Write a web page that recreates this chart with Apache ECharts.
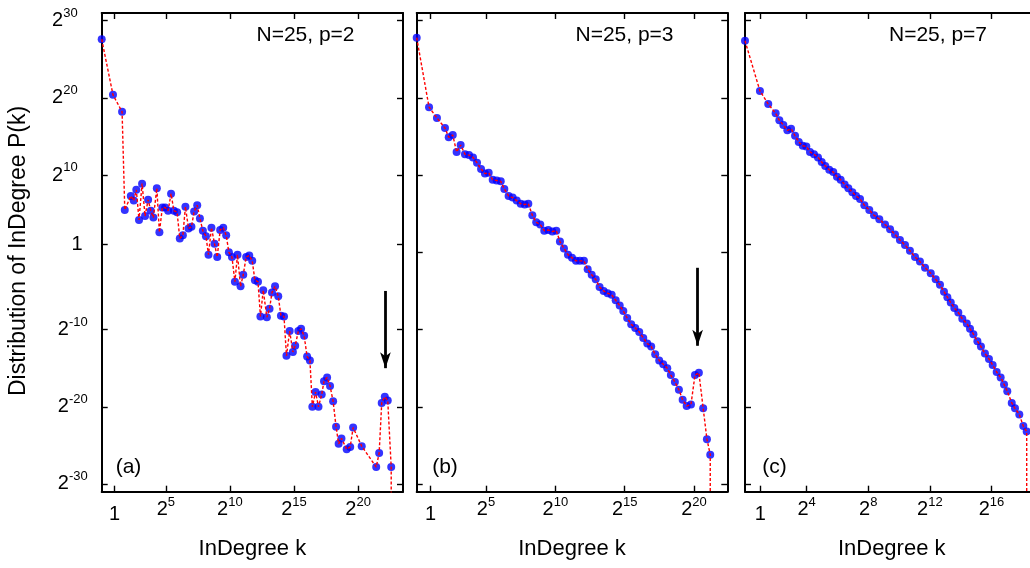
<!DOCTYPE html>
<html>
<head>
<meta charset="utf-8">
<script src="https://cdn.jsdelivr.net/npm/echarts@6/dist/echarts.min.js"></script>
<style>
html,body{margin:0;padding:0;background:#ffffff;}
#chart{width:1030px;height:568px;}
</style>
</head>
<body>
<div id="chart"></div>
<script>
// ---------------- DATA (log2 k , log2 P(k)) ----------------
const P_ZERO = -60; // P(k)=0 at the last k: the curve drops off the bottom of the axis

const panelA = [
  [0.00,27.6],[0.88,20.4],[1.59,18.2],[1.80,5.5],[2.27,7.3],[2.50,6.7],[2.70,8.1],[2.91,4.2],
  [3.15,8.9],[3.38,4.7],[3.62,6.8],[3.83,5.4],[4.03,4.5],[4.30,8.3],[4.50,2.6],[4.73,5.8],
  [4.95,5.8],[5.18,5.4],[5.41,7.6],[5.63,5.4],[5.88,5.2],[6.09,1.8],[6.33,2.2],[6.53,5.9],
  [6.77,3.1],[7.00,3.3],[7.21,5.3],[7.45,6.1],[7.66,4.4],[7.89,2.8],[8.13,2.1],[8.33,-0.3],
  [8.56,3.2],[8.80,1.1],[9.01,-0.6],[9.24,2.9],[9.48,3.2],[9.71,2.2],[9.92,0.0],[10.16,-0.6],
  [10.39,-3.8],[10.59,-0.3],[10.83,-4.4],[11.04,-2.9],[11.27,-0.6],[11.51,-0.4],[11.74,-1.1],
  [11.95,-3.6],[12.19,-3.8],[12.38,-8.3],[12.60,-4.9],[12.88,-8.4],[13.09,-7.3],[13.28,-5.2],
  [13.52,-4.4],[13.77,-5.7],[13.98,-8.2],[14.22,-8.3],[14.41,-13.4],[14.66,-10.2],[14.91,-12.9],
  [15.09,-12.1],[15.34,-10.2],[15.55,-9.9],[15.79,-10.8],[16.02,-13.5],[16.24,-14.0],
  [16.43,-20.0],[16.68,-18.1],[16.91,-20.0],[17.16,-18.4],[17.34,-16.7],[17.58,-16.2],
  [17.81,-17.3],[18.05,-19.3],[18.28,-22.6],[18.48,-24.8],[18.70,-24.1],[19.11,-25.5],
  [19.38,-25.2],[19.61,-22.7],[20.28,-25.1],[21.41,-27.8],[21.64,-26.0],[21.84,-19.5],
  [22.08,-18.7],[22.31,-19.2],[22.58,-27.8],[22.58,P_ZERO]
];

const panelB = [
  [0.00,27.8],[0.89,18.8],[1.46,17.4],[2.04,16.1],[2.31,14.9],[2.60,15.2],[2.88,13.0],[3.17,13.9],
  [3.48,12.7],[3.77,12.6],[4.06,12.3],[4.35,11.6],[4.64,10.8],[4.92,10.2],[5.19,10.3],[5.48,9.4],
  [5.77,9.3],[6.06,9.2],[6.32,8.2],[6.63,7.3],[6.92,7.1],[7.21,6.7],[7.50,6.3],[7.79,6.2],
  [8.05,6.3],[8.34,4.8],[8.62,3.9],[8.91,3.6],[9.20,2.8],[9.49,2.9],[9.78,2.7],[10.07,2.8],
  [10.33,1.4],[10.62,0.5],[10.91,-0.3],[11.20,-0.7],[11.49,-1.1],[11.77,-1.1],[12.06,-1.1],
  [12.33,-2.2],[12.62,-2.9],[12.91,-3.5],[13.19,-4.5],[13.48,-5.0],[13.77,-5.3],[14.06,-5.5],
  [14.35,-6.2],[14.64,-6.9],[14.90,-7.6],[15.18,-8.5],[15.47,-9.3],[15.76,-9.8],[16.05,-10.3],
  [16.34,-11.1],[16.63,-11.8],[16.91,-12.2],[17.20,-13.2],[17.49,-14.0],[17.78,-14.5],
  [18.07,-15.0],[18.33,-15.9],[18.62,-16.8],[18.91,-17.8],[19.18,-19.1],[19.47,-19.9],
  [19.78,-19.7],[20.07,-15.9],[20.35,-15.6],[20.66,-20.2],[20.93,-24.2],[21.17,-26.2],
  [21.17,P_ZERO]
];

const panelC = [
  [0.00,27.4],[0.97,20.9],[1.51,19.2],[1.99,18.0],[2.23,17.1],[2.49,16.5],[2.75,15.8],[2.99,16.0],
  [3.25,15.1],[3.49,14.3],[3.75,13.8],[3.98,13.7],[4.22,13.0],[4.48,12.7],[4.74,12.3],[4.98,11.7],
  [5.21,11.2],[5.47,10.7],[5.73,10.4],[5.97,9.8],[6.21,9.4],[6.47,8.8],[6.71,8.3],[6.97,7.8],
  [7.21,7.3],[7.47,6.9],[7.75,6.1],[8.07,5.5],[8.38,4.8],[8.72,4.3],[9.09,3.6],[9.42,3.0],
  [9.74,2.3],[10.06,1.6],[10.39,0.95],[10.71,0.2],[11.04,-0.6],[11.36,-1.2],[11.69,-2.0],
  [12.06,-2.7],[12.38,-3.5],[12.66,-4.2],[12.92,-5.1],[13.14,-5.8],[13.36,-6.5],[13.59,-7.2],
  [13.85,-7.8],[14.11,-8.6],[14.40,-9.2],[14.61,-9.9],[14.83,-10.6],[15.09,-11.5],[15.32,-12.2],
  [15.58,-13.1],[15.84,-13.8],[16.08,-14.6],[16.34,-15.5],[16.60,-16.2],[16.82,-17.1],
  [17.03,-18.0],[17.32,-19.5],[17.53,-20.2],[17.81,-21.0],[18.07,-22.5],[18.29,-23.2],
  [18.29,P_ZERO]
];

// tick values (log2) and labels
const xTicksAB = [1, 5, 10, 15, 20];
const xTicksC  = [1, 4, 8, 12, 16];
const yTicksAC = [-30, -20, -10, 1, 10, 20, 30];
const yTicksB  = [-30, -20, -10, 0, 10, 20, 30];
const xOneTick = 1;             // tick labelled "1" on x
const yOneTicks = [1, 0, 1];    // tick labelled "1" on y, per panel

const panelTitles = ['N=25, p=2', 'N=25, p=3', 'N=25, p=7'];
const panelTags = ['(a)', '(b)', '(c)'];
const xTitle = 'InDegree k';
const yTitle = 'Distribution of InDegree P(k)';

// arrows: [log2 k, log2 P at tail, log2 P at arrow tip]
const arrowA = [22.13, -5.0, -15.0];
const arrowB = [20.26, -2.0, -12.1];

// ---------------- LAYOUT / STYLE ----------------
const FONT = "'Liberation Sans', Arial, Helvetica, sans-serif";
const TOP = 13, HEIGHT = 478.7, YMIN = -31, YMAX = 31;
const layout = [
  { left: 101.7, width: 301.3, xmax: 23.5 },
  { left: 416.7, width: 310.6, xmax: 22.4 },
  { left: 745.0, width: 293.4, xmax: 19.05 }
];
const panels = [
  { data: panelA, xTicks: xTicksAB, yTicks: yTicksAC, showY: true,  arrow: arrowA },
  { data: panelB, xTicks: xTicksAB, yTicks: yTicksB,  showY: false, arrow: arrowB },
  { data: panelC, xTicks: xTicksC,  yTicks: yTicksAC, showY: false, arrow: null }
];

const txt = { fontFamily: FONT, color: '#000' };
const richX = {
  b:    Object.assign({ fontSize: 20, lineHeight: 28 }, txt),
  s:    Object.assign({ fontSize: 13, lineHeight: 13, verticalAlign: 'top' }, txt),
  onex: Object.assign({ fontSize: 20, lineHeight: 38 }, txt)
};
const richY = {
  b:    Object.assign({ fontSize: 20, lineHeight: 28 }, txt),
  s:    Object.assign({ fontSize: 13, lineHeight: 13, verticalAlign: 'top' }, txt),
  sp:   Object.assign({ fontSize: 13, lineHeight: 13, verticalAlign: 'top', padding: [0, 10, 0, 0] }, txt),
  oney: Object.assign({ fontSize: 20, lineHeight: 28, padding: [0, 5, 0, 0] }, txt)
};
const axisLine = { show: true, onZero: false, lineStyle: { color: '#000', width: 2 } };
const tickStyle = { color: '#000', width: 1.4 };

const grids = [], xAxes = [], yAxes = [], series = [], graphics = [];

panels.forEach(function (p, i) {
  const L = layout[i];
  grids.push({ left: L.left, top: TOP, width: L.width, height: HEIGHT, show: false,
               containLabel: false, outerBoundsMode: 'none' });
  // bottom x axis
  xAxes.push({
    gridIndex: i, type: 'value', min: 0, max: L.xmax, position: 'bottom',
    axisLine: axisLine,
    axisTick: { show: true, inside: true, length: 6, customValues: p.xTicks, lineStyle: tickStyle },
    axisLabel: { show: true, customValues: p.xTicks, margin: 4, rich: richX,
      formatter: function (v) { return v === xOneTick ? '{onex|1}' : '{b|2}{s|' + v + '}'; } },
    splitLine: { show: false },
    name: xTitle, nameLocation: 'middle', nameGap: 46, nameMoveOverlap: false,
    nameTextStyle: { fontSize: 22, fontFamily: FONT, color: '#000' }
  });
  // left y axis
  const one = yOneTicks[i];
  yAxes.push({
    gridIndex: i, type: 'value', min: YMIN, max: YMAX, position: 'left',
    axisLine: axisLine,
    axisTick: { show: true, inside: true, length: 6, customValues: p.yTicks, lineStyle: tickStyle },
    axisLabel: { show: p.showY, customValues: p.yTicks, margin: 14, rich: richY, align: 'right',
      formatter: function (v) {
        if (v === one) return '{oney|1}';
        return '{b|2}{' + (v > 0 ? 'sp' : 's') + '|' + v + '}';
      } },
    splitLine: { show: false }
  });
  // series: blue points underneath, red dashed line on top
  series.push({
    type: 'scatter', xAxisIndex: i, yAxisIndex: i, data: p.data,
    symbol: 'circle', symbolSize: 8, itemStyle: { color: '#0000ff' },
    z: 2, clip: true, silent: true, animation: false
  });
  const line = {
    type: 'line', xAxisIndex: i, yAxisIndex: i, data: p.data,
    symbol: 'none', showSymbol: false,
    lineStyle: { color: '#ff0000', width: 1.4, type: [3, 2] },
    z: 3, clip: true, silent: true, animation: false
  };
  if (p.arrow) {
    line.markLine = {
      silent: true, animation: false, symbol: ['none', 'arrow'],
      label: { show: false }, emphasis: { disabled: true },
      lineStyle: { color: '#000', width: 2.8, type: 'solid' },
      data: [[
        { coord: [p.arrow[0], p.arrow[1]], symbol: 'none' },
        { coord: [p.arrow[0], p.arrow[2]], symbol: 'arrow', symbolSize: [8, 16] }
      ]]
    };
  }
  series.push(line);
  // panel annotations
  graphics.push({
    type: 'text', x: [305.5, 624.5, 938][i], y: 35,
    style: { text: panelTitles[i], font: '21px ' + FONT, fill: '#000',
             align: 'center', verticalAlign: 'middle', textAlign: 'center', textVerticalAlign: 'middle' }
  });
  graphics.push({
    type: 'text', x: [128.5, 445, 774.5][i], y: 467,
    style: { text: panelTags[i], font: '21px ' + FONT, fill: '#000',
             align: 'center', verticalAlign: 'middle', textAlign: 'center', textVerticalAlign: 'middle' }
  });
});

// mirrored (top / right) axes: ticks only
panels.forEach(function (p, i) {
  const L = layout[i];
  xAxes.push({
    gridIndex: i, type: 'value', min: 0, max: L.xmax, position: 'top',
    axisLine: axisLine,
    axisTick: { show: true, inside: true, length: 6, customValues: p.xTicks, lineStyle: tickStyle },
    axisLabel: { show: false }, splitLine: { show: false }
  });
  yAxes.push({
    gridIndex: i, type: 'value', min: YMIN, max: YMAX, position: 'right',
    axisLine: axisLine,
    axisTick: { show: true, inside: true, length: 6, customValues: p.yTicks, lineStyle: tickStyle },
    axisLabel: { show: false }, splitLine: { show: false }
  });
});

graphics.push({
  type: 'text', x: 18.5, y: 251, rotation: Math.PI / 2,
  style: { text: yTitle, font: '23px ' + FONT, fill: '#000',
           align: 'center', verticalAlign: 'middle', textAlign: 'center', textVerticalAlign: 'middle' }
});

const chart = echarts.init(document.getElementById('chart'), null, { renderer: 'canvas' });
chart.setOption({
  backgroundColor: '#ffffff',
  animation: false,
  grid: grids,
  xAxis: xAxes,
  yAxis: yAxes,
  series: series,
  graphic: graphics
});
</script>
</body>
</html>
